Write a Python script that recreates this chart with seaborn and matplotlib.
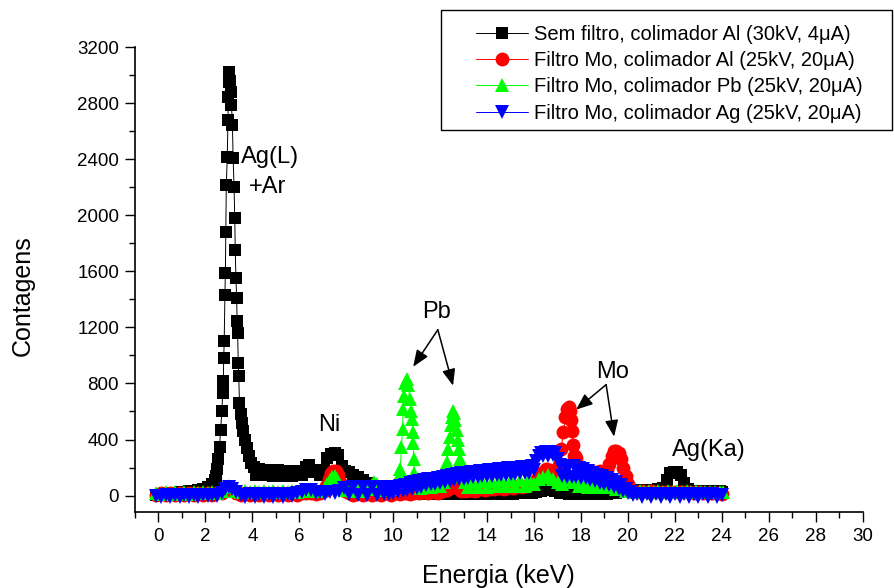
import matplotlib
matplotlib.use("Agg")
import matplotlib.pyplot as plt
from matplotlib.patches import Rectangle
from matplotlib.ticker import MultipleLocator
import seaborn as sns

# Energy (keV), counts pairs for each acquisition
black_spectrum = [
    (-0.1, 5), (0.1, 10), (0.3, 12), (0.5, 15), (0.7, 18), (0.9, 25), (1.1, 28), (1.3, 32), (1.5, 35),
    (1.7, 40), (1.9, 48), (2.1, 62), (2.3, 85), (2.4, 110), (2.45, 140), (2.5, 190), (2.55, 260),
    (2.6, 350), (2.65, 470), (2.7, 600), (2.74, 734), (2.76, 815), (2.78, 983), (2.8, 1100),
    (2.83, 1432), (2.85, 1589), (2.87, 1877), (2.89, 2217), (2.93, 2418), (2.96, 2680), (2.98, 2843),
    (3.0, 2950), (3.02, 3022), (3.05, 2960), (3.08, 2880), (3.11, 2787), (3.15, 2644), (3.18, 2405),
    (3.22, 2202), (3.25, 1981), (3.27, 1753), (3.3, 1553), (3.33, 1411), (3.35, 1242), (3.37, 1162),
    (3.4, 948), (3.42, 850), (3.45, 663), (3.5, 580), (3.55, 520), (3.6, 460), (3.67, 400),
    (3.75, 340), (3.85, 280), (3.95, 235), (4.05, 205), (4.15, 150), (4.3, 190), (4.5, 145),
    (4.7, 185), (4.9, 140), (5.1, 180), (5.3, 140), (5.5, 178), (5.7, 138), (5.9, 175), (6.1, 145),
    (6.3, 205), (6.4, 215), (6.5, 170), (6.7, 185), (6.9, 145), (7.05, 180), (7.2, 265), (7.35, 300),
    (7.5, 305), (7.65, 290), (7.8, 210), (7.95, 175), (8.1, 165), (8.3, 150), (8.5, 130), (8.7, 110),
    (8.9, 90), (9.1, 70), (9.3, 55), (9.5, 45), (9.7, 38), (9.9, 32), (10.1, 28), (10.3, 15),
    (10.5, 25), (10.7, 12), (10.9, 25), (11.1, 12), (11.3, 25), (11.5, 12), (11.7, 25), (11.9, 12),
    (12.1, 25), (12.3, 12), (12.5, 25), (12.7, 12), (12.9, 25), (13.1, 12), (13.3, 25), (13.5, 12),
    (13.7, 25), (13.9, 12), (14.1, 25), (14.3, 12), (14.5, 25), (14.7, 12), (14.9, 25), (15.1, 12),
    (15.3, 25), (15.5, 15), (15.7, 25), (15.9, 15), (16.1, 25), (16.3, 30), (16.5, 40), (16.7, 45),
    (16.9, 30), (17.1, 15), (17.3, 25), (17.5, 12), (17.7, 25), (17.9, 12), (18.1, 25), (18.3, 12),
    (18.5, 25), (18.7, 12), (18.9, 25), (19.1, 12), (19.3, 25), (19.5, 15), (19.7, 25), (19.9, 30),
    (20.1, 38), (20.3, 42), (20.5, 40), (20.7, 42), (20.9, 40), (21.1, 42), (21.3, 45), (21.5, 55),
    (21.65, 110), (21.8, 160), (21.95, 170), (22.1, 170), (22.25, 150), (22.4, 90), (22.55, 45),
    (22.7, 35), (22.9, 30), (23.1, 30), (23.3, 28), (23.5, 30), (23.7, 28), (23.9, 30), (24.0, 28),
]

red_spectrum = [
    (-0.1, 5), (0.1, 15), (0.3, 5), (0.5, 15), (0.7, 5), (0.9, 15), (1.1, 5), (1.3, 15), (1.5, 5),
    (1.7, 15), (1.9, 5), (2.1, 15), (2.3, 5), (2.5, 15), (2.7, 20), (2.9, 40), (3.0, 50), (3.1, 40),
    (3.3, 20), (3.5, 5), (3.7, 15), (3.9, 5), (4.1, 15), (4.3, 5), (4.5, 15), (4.7, 5), (4.9, 15),
    (5.1, 5), (5.3, 15), (5.5, 5), (5.7, 15), (5.9, 5), (6.1, 15), (6.3, 20), (6.5, 20), (6.7, 10),
    (6.9, 15), (7.05, 35), (7.15, 70), (7.25, 120), (7.35, 160), (7.45, 175), (7.55, 175),
    (7.65, 150), (7.75, 100), (7.85, 55), (7.95, 30), (8.1, 15), (8.3, 5), (8.5, 15), (8.7, 5),
    (8.9, 15), (9.1, 5), (9.3, 15), (9.5, 5), (9.7, 15), (9.9, 5), (10.1, 15), (10.3, 10), (10.5, 20),
    (10.7, 10), (10.9, 20), (11.1, 15), (11.3, 25), (11.5, 15), (11.7, 25), (11.9, 20), (12.1, 30),
    (12.3, 40), (12.5, 60), (12.7, 55), (12.9, 35), (13.1, 30), (13.3, 40), (13.5, 35), (13.7, 45),
    (13.9, 40), (14.1, 50), (14.3, 45), (14.5, 55), (14.7, 50), (14.9, 60), (15.1, 55), (15.3, 65),
    (15.5, 60), (15.7, 70), (15.9, 80), (16.1, 110), (16.3, 160), (16.5, 190), (16.7, 180),
    (16.9, 170), (17.05, 220), (17.15, 330), (17.25, 450), (17.33, 560), (17.4, 620), (17.47, 630),
    (17.53, 600), (17.58, 540), (17.62, 460), (17.66, 360), (17.7, 280), (17.75, 285), (17.8, 270),
    (17.9, 200), (18.0, 175), (18.2, 168), (18.4, 175), (18.6, 168), (18.8, 175), (19.0, 168),
    (19.1, 185), (19.2, 225), (19.3, 280), (19.4, 315), (19.5, 320), (19.6, 305), (19.7, 260),
    (19.8, 200), (19.9, 140), (20.0, 80), (20.1, 45), (20.2, 30), (20.4, 25), (20.6, 30), (20.8, 25),
    (21.0, 30), (21.2, 25), (21.4, 28), (21.6, 25), (21.8, 28), (22.0, 25), (22.2, 28), (22.4, 22),
    (22.6, 25), (22.8, 20), (23.0, 22), (23.2, 18), (23.4, 20), (23.6, 15), (23.8, 15), (24.0, 10),
]

green_spectrum = [
    (-0.1, 20), (0.1, 12), (0.3, 22), (0.5, 12), (0.7, 22), (0.9, 12), (1.1, 22), (1.3, 12),
    (1.5, 22), (1.7, 15), (1.9, 25), (2.1, 15), (2.3, 25), (2.5, 20), (2.7, 35), (2.9, 60), (3.0, 70),
    (3.1, 60), (3.3, 35), (3.5, 25), (3.7, 32), (3.9, 22), (4.1, 32), (4.3, 22), (4.5, 32), (4.7, 22),
    (4.9, 32), (5.1, 22), (5.3, 32), (5.5, 22), (5.7, 32), (5.9, 25), (6.1, 35), (6.3, 42), (6.5, 40),
    (6.7, 30), (6.9, 35), (7.1, 55), (7.2, 80), (7.3, 110), (7.4, 135), (7.5, 140), (7.6, 120),
    (7.7, 85), (7.8, 55), (7.95, 40), (8.1, 45), (8.3, 35), (8.5, 45), (8.7, 35), (8.9, 45),
    (9.0, 55), (9.1, 75), (9.2, 95), (9.3, 80), (9.4, 55), (9.6, 40), (9.8, 45), (10.0, 50),
    (10.1, 65), (10.2, 100), (10.25, 140), (10.3, 192), (10.35, 350), (10.4, 477), (10.42, 620),
    (10.45, 713), (10.52, 800), (10.58, 835), (10.64, 790), (10.7, 690), (10.76, 600), (10.8, 549),
    (10.83, 450), (10.85, 378), (10.87, 264), (10.9, 164), (10.98, 100), (11.05, 80), (11.2, 55),
    (11.4, 80), (11.6, 60), (11.8, 85), (12.0, 65), (12.15, 100), (12.25, 150), (12.3, 240),
    (12.35, 330), (12.4, 420), (12.45, 500), (12.5, 560), (12.55, 600), (12.6, 590), (12.65, 540),
    (12.7, 470), (12.75, 400), (12.8, 330), (12.85, 260), (12.9, 190), (12.95, 140), (13.05, 100),
    (13.2, 60), (13.4, 100), (13.6, 60), (13.8, 105), (14.0, 62), (14.2, 105), (14.4, 65), (14.6, 110),
    (14.8, 65), (15.0, 110), (15.2, 68), (15.4, 112), (15.6, 70), (15.8, 115), (16.0, 85), (16.2, 120),
    (16.4, 130), (16.6, 150), (16.8, 120), (17.0, 95), (17.2, 85), (17.4, 110), (17.55, 120),
    (17.7, 95), (17.9, 70), (18.1, 85), (18.3, 60), (18.5, 85), (18.7, 60), (18.9, 80), (19.1, 60),
    (19.3, 70), (19.5, 50), (19.7, 45), (19.9, 35), (20.1, 30), (20.3, 25), (20.5, 30), (20.7, 25),
    (20.9, 30), (21.1, 25), (21.3, 30), (21.5, 25), (21.7, 30), (21.9, 25), (22.1, 30), (22.3, 25),
    (22.5, 30), (22.7, 25), (22.9, 30), (23.1, 25), (23.3, 28), (23.5, 25), (23.7, 28), (23.9, 25),
    (24.05, 22),
]

blue_spectrum = [
    (-0.1, -2), (0.1, -8), (0.3, 2), (0.5, -8), (0.7, 2), (0.9, -8), (1.1, 2), (1.3, -8), (1.5, 2),
    (1.7, -8), (1.9, 2), (2.1, -6), (2.3, 5), (2.5, 0), (2.7, 20), (2.85, 45), (3.0, 60), (3.15, 50),
    (3.3, 25), (3.5, 5), (3.7, -8), (3.9, 12), (4.1, -8), (4.3, 12), (4.5, -8), (4.7, 12), (4.9, -8),
    (5.1, 12), (5.3, -8), (5.5, 12), (5.7, -5), (5.9, 15), (6.1, 25), (6.3, 42), (6.5, 38), (6.7, 15),
    (6.9, 28), (7.1, 10), (7.3, 28), (7.5, 20), (7.7, 35), (7.9, 55), (8.1, 10), (8.3, 62), (8.5, 5),
    (8.7, 60), (8.9, 5), (9.1, 60), (9.3, 5), (9.5, 58), (9.6, 10), (9.7, 55), (9.8, 12), (9.9, 60),
    (10.0, 20), (10.1, 62), (10.2, 25), (10.3, 70), (10.4, 30), (10.5, 78), (10.6, 38), (10.7, 88),
    (10.8, 48), (10.9, 95), (11.0, 55), (11.1, 102), (11.2, 64), (11.3, 108), (11.4, 74), (11.5, 115),
    (11.6, 80), (11.7, 120), (11.8, 86), (11.9, 128), (12.0, 92), (12.1, 133), (12.2, 98),
    (12.3, 140), (12.4, 104), (12.5, 146), (12.6, 110), (12.7, 152), (12.8, 116), (12.9, 158),
    (13.0, 120), (13.1, 163), (13.2, 125), (13.3, 167), (13.4, 129), (13.5, 171), (13.6, 133),
    (13.7, 175), (13.8, 137), (13.9, 178), (14.0, 140), (14.1, 181), (14.2, 142), (14.3, 185),
    (14.4, 144), (14.5, 188), (14.6, 147), (14.7, 191), (14.8, 150), (14.9, 194), (15.0, 152),
    (15.1, 197), (15.2, 155), (15.3, 200), (15.4, 158), (15.5, 203), (15.6, 161), (15.7, 206),
    (15.8, 164), (15.9, 210), (16.0, 185), (16.1, 250), (16.2, 285), (16.3, 305), (16.4, 280),
    (16.5, 312), (16.6, 285), (16.7, 310), (16.8, 288), (16.9, 305), (17.0, 260), (17.1, 215),
    (17.2, 140), (17.3, 210), (17.4, 135), (17.5, 212), (17.6, 132), (17.7, 208), (17.8, 130),
    (17.9, 200), (18.0, 126), (18.1, 190), (18.2, 122), (18.3, 175), (18.4, 114), (18.5, 162),
    (18.6, 104), (18.7, 150), (18.8, 92), (18.9, 138), (19.0, 82), (19.1, 125), (19.2, 72),
    (19.3, 110), (19.4, 60), (19.5, 95), (19.6, 48), (19.7, 75), (19.8, 32), (19.9, 50), (20.0, 18),
    (20.1, 25), (20.2, 5), (20.4, 12), (20.6, -8), (20.8, 10), (21.0, -8), (21.2, 10), (21.4, -8),
    (21.6, 10), (21.8, -8), (22.0, 10), (22.2, -8), (22.4, 10), (22.6, -8), (22.8, 10), (23.0, -8),
    (23.2, 10), (23.4, -8), (23.6, 10), (23.8, -8), (24.0, 5),
]

series_labels = [
    "Sem filtro, colimador Al (30kV, 4\u03bcA)",
    "Filtro Mo, colimador Al (25kV, 20\u03bcA)",
    "Filtro Mo, colimador Pb (25kV, 20\u03bcA)",
    "Filtro Mo, colimador Ag (25kV, 20\u03bcA)",
]

sns.set_style("ticks")
plt.rcParams["font.family"] = ["Liberation Sans", "DejaVu Sans"]
plt.rcParams.update({"text.color": "black", "axes.labelcolor": "black",
                     "xtick.color": "black", "ytick.color": "black"})

W, H = 894, 588
fig = plt.figure(figsize=(W / 100, H / 100), dpi=100)
ax_left, ax_right, ax_top, ax_bottom = 135, 862.7, 47, 511.7
ax = fig.add_axes([ax_left / W, 1 - ax_bottom / H, (ax_right - ax_left) / W, (ax_bottom - ax_top) / H])

styles = [
    (black_spectrum, "black", "s", 8.4),
    (red_spectrum, "#ff0000", "o", 10.0),
    (green_spectrum, "#00ff00", "^", 10.0),
    (blue_spectrum, "#0000ff", "v", 10.0),
]
for (spectrum, color, marker, ms), label in zip(styles, series_labels):
    energy, counts = zip(*spectrum)
    sns.lineplot(x=list(energy), y=list(counts), color=color, marker=marker, markersize=ms,
                 markeredgewidth=0, linewidth=0.7, sort=False, estimator=None, ax=ax, label=label)

ax.set_xlim(-1, 30)
ax.set_ylim(-115, 3200)
ax.xaxis.set_major_locator(MultipleLocator(2))
ax.xaxis.set_minor_locator(MultipleLocator(1))
ax.yaxis.set_major_locator(MultipleLocator(400))
ax.yaxis.set_minor_locator(MultipleLocator(200))
ax.tick_params(which="major", direction="out", length=7.5, width=1.0, labelsize=13.5, pad=4,
               colors="black", labelcolor="black")
ax.tick_params(which="minor", direction="out", length=4, width=1.0, colors="black")
for side in ("top", "right"):
    ax.spines[side].set_visible(False)
for side in ("left", "bottom"):
    ax.spines[side].set_linewidth(1.2)
    ax.spines[side].set_color("black")

ax.set_xlabel("Energia (keV)", fontsize=18, labelpad=14, color="black")
ax.set_ylabel("Contagens", fontsize=18, color="black")
ax.yaxis.set_label_coords(-0.138, 0.466)

# Peak identifications
label_kw = dict(fontsize=17, ha="left", va="baseline", color="black")
ax.text(3.51, 2373, "Ag(L)", **label_kw)
ax.text(3.83, 2157, "+Ar", **label_kw)
ax.text(6.80, 458, "Ni", **label_kw)
ax.text(11.22, 1266, "Pb", **label_kw)
ax.text(18.64, 839, "Mo", **label_kw)
ax.text(21.87, 285, "Ag(Ka)", **label_kw)

arrow_style = dict(arrowstyle="-|>,head_length=0.5,head_width=0.2", color="black", lw=1.1,
                   shrinkA=0, shrinkB=0, mutation_scale=20)
for start, end in [((11.9, 1183), (10.85, 919)), ((11.9, 1183), (12.55, 784)),
                   ((19.07, 791), (17.79, 613)), ((19.07, 791), (19.41, 420))]:
    ax.annotate("", xy=end, xytext=start, arrowprops=arrow_style)

handles, labels = ax.get_legend_handles_labels()
leg = ax.legend(handles, labels, loc="upper left", bbox_to_anchor=(476 / W, 1 - 25 / H),
                bbox_transform=fig.transFigure, frameon=False, borderpad=0, borderaxespad=0,
                handlelength=2.6, handletextpad=0.3, labelspacing=0.36, fontsize=14.5)
for t in leg.get_texts():
    t.set_color("black")
fig.add_artist(Rectangle((441 / W, 1 - 130 / H), 451 / W, 120 / H, transform=fig.transFigure,
                         fill=False, edgecolor="black", linewidth=1.0))

fig.savefig("out.png", dpi=100)
